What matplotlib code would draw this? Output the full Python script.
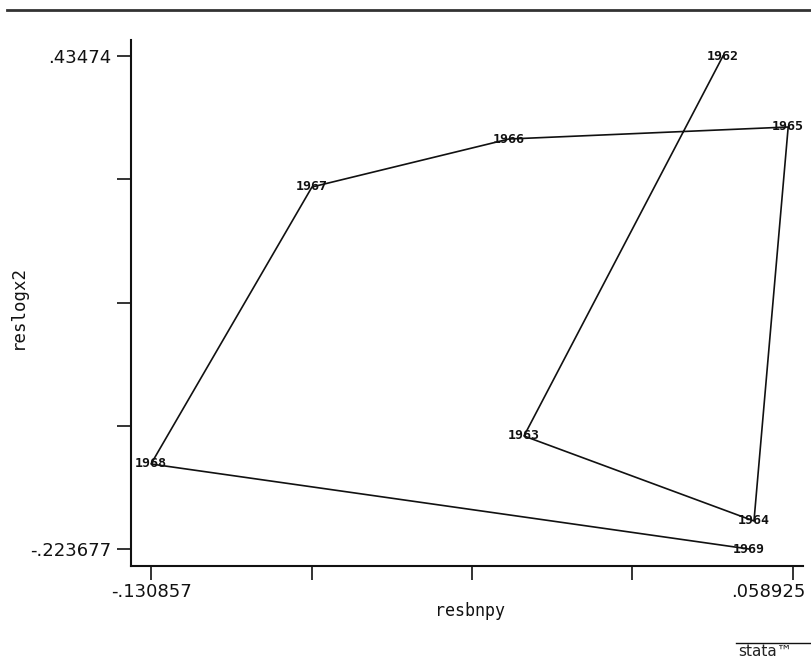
import matplotlib.pyplot as plt
import matplotlib.transforms as mtransforms
from matplotlib.lines import Line2D

# residual plot, points joined in year order
years = ['1962', '1963', '1964', '1965', '1966', '1967', '1968', '1969']
resbnpy = [0.03823, -0.02060, 0.04739, 0.05750, -0.02503, -0.08327, -0.130857, 0.04591]
reslogx2 = [0.43474, -0.07275, -0.18627, 0.33992, 0.32389, 0.25979, -0.11014, -0.223677]

xticks = [-0.130857, -0.083412, -0.035966, 0.011479, 0.058925]
xticklabels = ['-.130857', '', '', '', '.058925']
yticks = [-0.223677, -0.059073, 0.105532, 0.270136, 0.43474]
yticklabels = ['-.223677', '', '', '', '.43474']

fig = plt.figure(figsize=(8.11, 6.62), dpi=100)
ax = fig.add_axes([131/811, 1-566/662, (803-131)/811, (566-40)/662])

ax.plot(resbnpy, reslogx2, color='#111111', lw=1.2)
for yr, x, y in zip(years, resbnpy, reslogx2):
    ax.text(x, y, yr, ha='center', va='center', fontsize=9.5,
            family='DejaVu Sans Mono', fontweight='bold', color='#111111')

ax.set_xlim(-0.13677, 0.061881)
ax.set_ylim(-0.24638, 0.45611)

for s in ['top', 'right']:
    ax.spines[s].set_visible(False)
for s in ['left', 'bottom']:
    ax.spines[s].set_linewidth(1.5)
    ax.spines[s].set_color('#111111')

ax.set_xticks(xticks)
ax.set_xticklabels(xticklabels, fontsize=13)
ax.set_yticks(yticks)
ax.set_yticklabels(yticklabels, fontsize=13)
ax.tick_params(axis='x', length=10, width=1.2, pad=2, colors='#111111')
ax.tick_params(axis='y', length=10, width=1.2, pad=4, colors='#111111')

# right-most x label sits inside the page edge
lab = ax.get_xticklabels()[-1]
lab.set_horizontalalignment('right')
lab.set_transform(lab.get_transform() + mtransforms.ScaledTranslation(0.12, 0, fig.dpi_scale_trans))

# axis titles
fig.text(470/811, 1-611/662, 'resbnpy', fontsize=12, family='DejaVu Sans Mono',
         ha='center', va='center', color='#111111')
fig.text(18/811, 1-307/662, 'reslogx2', fontsize=12.5, family='DejaVu Sans Mono',
         ha='center', va='center', rotation=90, color='#111111')

# rule across the top of the page
fig.add_artist(Line2D([7/811, 1.0], [1-10/662, 1-10/662], color='#333333', lw=2))

# stata logo, bottom right
fig.text(738/811, 1-652/662, 'stata\u2122', fontsize=11, va='center', ha='left',
         color='#222222')
fig.add_artist(Line2D([736/811, 1.0], [1-643/662, 1-643/662], color='#111111', lw=1))

fig.savefig('out.png', dpi=100)
